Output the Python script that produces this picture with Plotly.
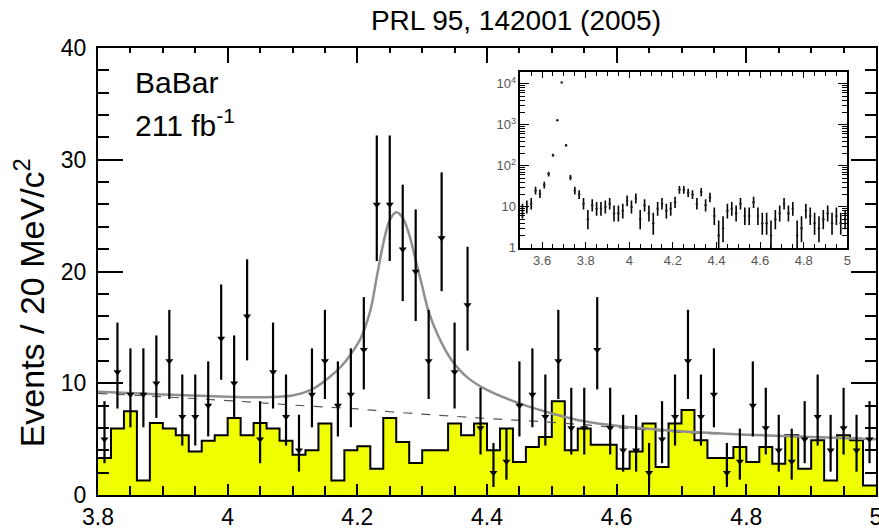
import numpy as np
import plotly.graph_objects as go

# ---------------- data ----------------
bin_lo = 3.80
bin_w = 0.02

# J/psi pi+ pi- candidates per 20 MeV bin (3.80 - 5.00 GeV)
counts = [5, 11, 9, 9, 10, 12, 7, 7, 8, 14, 10, 16, 5, 11, 7,
          4, 9, 12, 8, 9, 13, 26, 26, 22, 20, 12, 23, 11, 17, 6,
          2, 3, 8, 9, 7, 12, 6, 6, 13, 6, 4, 4, 2, 5, 7,
          12, 7, 9, 2, 3, 8, 6, 4, 3, 5, 7, 4, 6, 4, 5]

# J/psi sideband histogram (yellow)
sideband = [3.3, 5.95, 7.5, 1.3, 6.45, 5.95, 5.35, 3.9, 4.85, 5.35, 6.9, 5.35, 6.45, 5.95, 4.85,
            3.6, 4.0, 6.4, 1.3, 4.0, 4.36, 2.36, 6.9, 4.75, 2.86, 4.0, 4.0, 6.4, 5.35, 6.4,
            4.0, 5.95, 2.95, 4.3, 5.2, 8.4, 4.0, 5.95, 4.5, 4.5, 2.36, 3.9, 6.4, 2.5, 6.4,
            7.6, 4.9, 3.3, 3.3, 4.3, 2.95, 4.3, 2.8, 5.35, 2.36, 4.9, 1.3, 5.35, 4.9, 0.86]

# fit curve (signal + background)
fit_x = [3.80, 3.90, 4.00, 4.05, 4.10, 4.13, 4.155, 4.175, 4.19, 4.205, 4.22, 4.23, 4.24,
         4.25, 4.26, 4.27, 4.28, 4.29, 4.30, 4.31, 4.325, 4.345, 4.37, 4.40, 4.45, 4.50,
         4.55, 4.60, 4.70, 4.80, 4.90, 5.00]
fit_y = [9.25, 9.0, 8.8, 8.75, 8.9, 9.45, 10.45, 11.5, 12.6, 14.0, 16.5, 19.5, 22.5,
         24.6, 25.3, 24.8, 23.3, 21.0, 18.7, 16.4, 14.2, 12.1, 10.5, 9.4, 8.2, 7.3,
         6.6, 6.2, 5.7, 5.4, 5.2, 5.0]

# background component (dashed)
bkg_x = [3.80, 4.00, 4.10, 4.20, 4.25, 4.40, 4.50, 4.60, 4.70, 4.85, 5.00]
bkg_y = [9.1, 8.45, 8.05, 7.7, 7.45, 6.85, 6.5, 6.05, 5.6, 5.3, 5.05]

# inset: extra bins 3.50 - 3.80 (psi(2S) region), rest = counts above
inset_lo = 3.50
inset_low_counts = [8, 10, 12, 25, 21, 34, 63, 182, 1300, 10800, 316, 52, 25, 20, 12]

# ---------------- helpers ----------------
def poisson_errors(n):
    n = np.asarray(n, dtype=float)
    up = np.sqrt(n + 0.75) + 1.0
    lo = n - n * (1.0 - 1.0 / (9.0 * n) - 1.0 / (3.0 * np.sqrt(n))) ** 3
    return up, lo

nb = len(counts)
edges = bin_lo + bin_w * np.arange(nb + 1)
centers = bin_lo + bin_w * (np.arange(nb) + 0.5)
err_up, err_lo = poisson_errors(counts)

inset_counts = inset_low_counts + counts
ni = len(inset_counts)
inset_centers = inset_lo + bin_w * (np.arange(ni) + 0.5)
i_up, i_lo = poisson_errors(inset_counts)

FONT = "Liberation Sans, Arial, Helvetica, sans-serif"

fig = go.Figure()

fig.add_trace(go.Scatter(
    x=edges, y=list(sideband) + [sideband[-1]],
    mode="lines", line=dict(shape="hv", color="black", width=2),
    fill="tozeroy", fillcolor="#F0FF00", hoverinfo="skip", showlegend=False))

fig.add_trace(go.Scatter(
    x=bkg_x, y=bkg_y, mode="lines",
    line=dict(color="#555555", width=1.2, dash="dash", shape="spline"),
    showlegend=False))

fig.add_trace(go.Scatter(
    x=fit_x, y=fit_y, mode="lines",
    line=dict(color="#8f8f8f", width=2.5, shape="spline", smoothing=1.0),
    showlegend=False))

fig.add_trace(go.Scatter(
    x=centers, y=counts, mode="markers",
    marker=dict(symbol="triangle-down", size=7, color="black"),
    error_y=dict(type="data", symmetric=False, array=err_up, arrayminus=err_lo,
                 thickness=2.2, width=0, color="black"),
    showlegend=False))

# inset
fig.add_trace(go.Scatter(
    x=inset_centers, y=inset_counts, mode="markers", xaxis="x2", yaxis="y2",
    marker=dict(symbol="circle", size=2.5, color="#222222"),
    error_y=dict(type="data", symmetric=False, array=i_up, arrayminus=i_lo,
                 thickness=1.6, width=0, color="black"),
    showlegend=False))

# invisible anchors for the mirrored tick axes (top / right)
ghost = dict(mode="markers", marker=dict(opacity=0, size=1), hoverinfo="skip", showlegend=False)
fig.add_trace(go.Scatter(x=[4.0], y=[1], xaxis="x3", yaxis="y", **ghost))
fig.add_trace(go.Scatter(x=[4.0], y=[1], xaxis="x", yaxis="y3", **ghost))
fig.add_trace(go.Scatter(x=[4.0], y=[10], xaxis="x4", yaxis="y2", **ghost))
fig.add_trace(go.Scatter(x=[4.0], y=[10], xaxis="x2", yaxis="y4", **ghost))

minor_log = [d * 10 ** k for k in range(0, 5) for d in range(2, 10)]

main_x = dict(range=[3.8, 5.0], dtick=0.2, tick0=0, showgrid=False, zeroline=False,
              ticks="inside", tickwidth=1.5, tickcolor="black", automargin=False)
main_y = dict(range=[0, 40], dtick=10, showgrid=False, zeroline=False, automargin=False,
              ticks="inside", ticklen=25, tickwidth=1.5, tickcolor="black",
              minor=dict(dtick=2, ticks="inside", ticklen=11, tickwidth=1.5,
                         tickcolor="black", showgrid=False))
ins_x = dict(range=[3.5, 5.0], dtick=0.2, tick0=0, showgrid=False, zeroline=False,
             ticks="inside", ticklen=6, tickwidth=1.2, tickcolor="black", automargin=False,
             minor=dict(dtick=0.05, ticks="inside", ticklen=4, tickwidth=1,
                        tickcolor="black", showgrid=False))
ins_y = dict(type="log", range=[0, 4.28], tickmode="array", automargin=False,
             tickvals=[1, 10, 100, 1000, 10000], showgrid=False, zeroline=False,
             ticks="inside", ticklen=9, tickwidth=1.2, tickcolor="black",
             minor=dict(tickmode="array", tickvals=minor_log, ticks="inside",
                        ticklen=5, tickwidth=1, tickcolor="black", showgrid=False))

fig.update_layout(
    template="none",
    width=879, height=532,
    margin=dict(l=98, r=3, t=48, b=37, autoexpand=False),
    paper_bgcolor="white", plot_bgcolor="white", showlegend=False,
    font=dict(family=FONT, color="black"),
    title=dict(text="PRL 95, 142001 (2005)", x=0.587, xanchor="center",
               y=0.962, yanchor="middle", font=dict(size=28, family=FONT)),
    xaxis=dict(**main_x, domain=[0, 1], ticklen=11, showline=True, linecolor="black",
               linewidth=2, mirror=True, ticklabeloverflow="allow",
               minor=dict(dtick=0.05, ticks="inside", ticklen=9, tickwidth=1.5,
                          tickcolor="black", showgrid=False),
               tickfont=dict(size=23, family=FONT)),
    xaxis3=dict(**main_x, ticklen=15, overlaying="x", anchor="y", side="top",
                showline=False, showticklabels=False,
                minor=dict(dtick=0.05, ticks="inside", ticklen=5, tickwidth=1.5,
                           tickcolor="black", showgrid=False)),
    yaxis=dict(**main_y, domain=[0, 1], showline=True, linecolor="black", linewidth=2,
               mirror=True, ticklabelstandoff=5, tickfont=dict(size=23, family=FONT)),
    yaxis3=dict(**main_y, overlaying="y", anchor="x", side="right",
                showline=False, showticklabels=False),
    xaxis2=dict(**ins_x, domain=[0.5428, 0.9631], anchor="y2", showline=True,
                linecolor="black", linewidth=1.5, mirror=True,
                tickfont=dict(size=13, family=FONT, color="#555555")),
    xaxis4=dict(**ins_x, overlaying="x2", anchor="y2", side="top",
                showline=False, showticklabels=False),
    yaxis2=dict(**ins_y, domain=[0.5528, 0.9456], anchor="x2",
                ticktext=["1", "10", "10<sup>2</sup>", "10<sup>3</sup>", "10<sup>4</sup>"],
                showline=True, linecolor="black", linewidth=1.5, mirror=True,
                tickfont=dict(size=13, family=FONT, color="#555555")),
    yaxis4=dict(**ins_y, overlaying="y2", anchor="x2", side="right",
                showline=False, showticklabels=False),
)

fig.add_annotation(text="BaBar", xref="paper", yref="paper", x=0.045, y=0.922,
                   xanchor="left", yanchor="middle", showarrow=False,
                   font=dict(size=30, family=FONT))
fig.add_annotation(text="211 fb<sup>-1</sup>", xref="paper", yref="paper", x=0.045, y=0.832,
                   xanchor="left", yanchor="middle", showarrow=False,
                   font=dict(size=30, family=FONT))
fig.add_annotation(text="Events / 20 MeV/c<sup>2</sup>", xref="paper", yref="paper",
                   x=-0.088, y=0.43, xanchor="center", yanchor="middle", textangle=-90,
                   showarrow=False, font=dict(size=34, family=FONT))

fig.write_html("out.html")
